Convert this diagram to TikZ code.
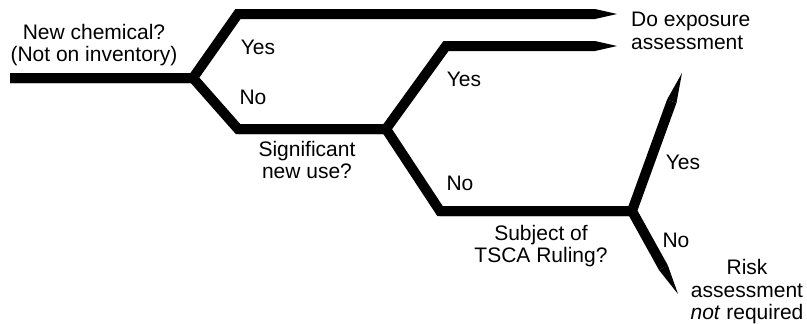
\documentclass[tikz,border=0pt]{standalone}
\usepackage{fontspec}
\setmainfont{Liberation Sans}
\usetikzlibrary{arrows.meta}
\tikzset{
  branch/.style ={line width=10pt, line join=miter, line cap=butt},
  goflat/.style ={branch, -{Triangle[length=22pt,width=10pt,line width=0pt]}},
  goslant/.style={branch, -{Triangle[length=30pt,width=10pt,line width=0pt]}},
  txt/.style    ={font=\fontsize{21}{22.5}\selectfont, inner sep=0pt,
                  align=center},
  lefttxt/.style={txt, align=left, anchor=west},
}

\begin{document}
\begin{tikzpicture}[x=1pt,y=1pt]
  \useasboundingbox (0,0) rectangle (807,-324);
  % ---- junctions and corners
  \coordinate (start) at (10,-78);
  \coordinate (f1)    at (193,-78);
  \coordinate (c1)    at (238,-14);
  \coordinate (t1)    at (617,-14);
  \coordinate (c2)    at (238,-129);
  \coordinate (f2)    at (386,-129);
  \coordinate (c3)    at (446,-46);
  \coordinate (t2)    at (617,-46);
  \coordinate (c4)    at (440,-211);
  \coordinate (f3)    at (632,-211);
  \coordinate (t3)    at (682,-73);
  \coordinate (t4)    at (678,-294);
  % ---- branches
  \draw[goflat]  (start) -- (f1) -- (c1) -- (t1);
  \draw[goflat]  (start) -- (f1) -- (c2) -- (f2) -- (c3) -- (t2);
  \draw[goslant] (c2) -- (f2) -- (c4) -- (f3) -- (t3);
  \draw[goslant] (c4) -- (f3) -- (t4);
  % ---- questions
  \node[txt] (qnew)  at (94,-45)  {New chemical?\\(Not on inventory)};
  \node[txt] (qsnu)  at (307,-160) {Significant\\new use?};
  \node[txt] (qtsca) at (541,-246) {Subject of\\TSCA Ruling?};
  % ---- answers
  \node[txt] (y1) at (258,-47)  {Yes};
  \node[txt] (n1) at (253,-97)  {No};
  \node[txt] (y2) at (464,-79)  {Yes};
  \node[txt] (n2) at (460,-183) {No};
  \node[txt] (y3) at (683,-162) {Yes};
  \node[txt] (n3) at (676,-240) {No};
  % ---- outcomes
  \node[lefttxt] (dexp) at (631,-31) {Do exposure\\assessment};
  \node[txt] (rnot) at (747,-292) {Risk\\assessment\\\textit{not} required};
\end{tikzpicture}
\end{document}
